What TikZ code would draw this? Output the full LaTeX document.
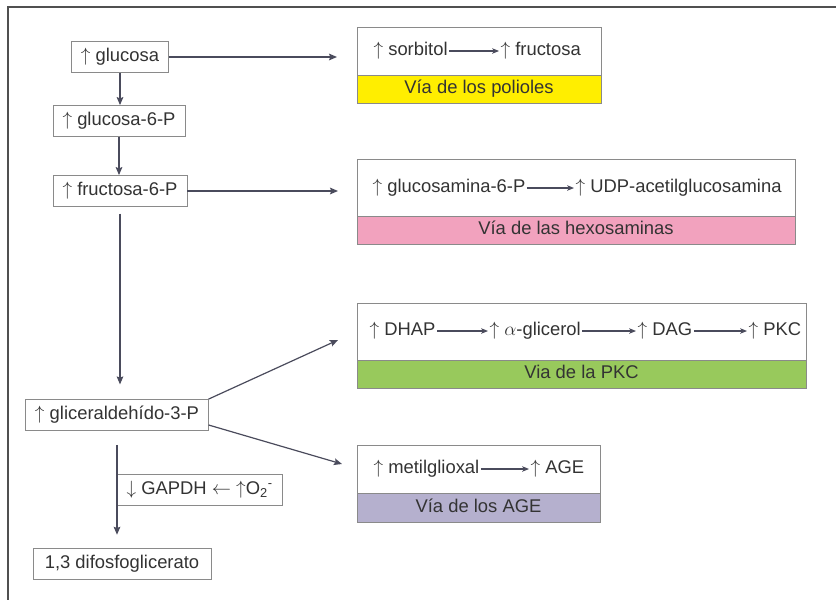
\documentclass[tikz,border=0pt]{standalone}
\usepackage{fontspec}
\setmainfont{Liberation Sans}
\usetikzlibrary{arrows.meta,positioning,fit}
\definecolor{pframe}{HTML}{505050}
\definecolor{pline}{HTML}{8A8A8A}
\definecolor{parrow}{HTML}{4A4B5C}
\definecolor{ptext}{HTML}{333333}
\definecolor{pyellow}{HTML}{FFEE00}
\definecolor{ppink}{HTML}{F2A2BE}
\definecolor{pgreen}{HTML}{98C95C}
\definecolor{ppurple}{HTML}{B5B0CE}
\newcommand{\incr}{$\uparrow$}
\newcommand{\decr}{$\downarrow$}

\begin{document}
\begin{tikzpicture}[x=0.75pt, y=-0.75pt,
    every node/.style={font=\fontsize{13.8}{16}\selectfont, text=ptext},
    metab/.style={draw=pline, fill=white, inner xsep=7pt, minimum height=23.5pt,
      text height=10pt, text depth=3pt},
    panel/.style={draw=pline, fill=white, inner sep=0pt},
    bar/.style={draw=pline, fill=#1, inner sep=0pt},
    barlbl/.style={inner sep=0pt, text height=10pt, text depth=3pt},
    lbl/.style={anchor=west, inner xsep=1pt, inner ysep=0pt, text height=10pt, text depth=3pt},
    flow/.style={-{Stealth[length=6pt,width=5pt,inset=1pt]}, parrow, line width=0.9pt},
    sub/.style={-{Stealth[length=5pt,width=4pt,inset=1pt]}, parrow, line width=0.8pt}]
    \useasboundingbox (0,0) rectangle (836,600);
    % frame
    \draw[pframe, line width=1.2pt] (8,600) -- (8,7) -- (836,7);

    % main chain
    \node[metab] (glc) at (120,57) {\incr\ glucosa};
    \node[metab] (g6p) at (119,121) {\incr\ glucosa-6-P};
    \node[metab] (f6p) at (120,191) {\incr\ fructosa-6-P};
    \node[metab] (g3p) at (117,415) {\incr\ gliceraldehído-3-P};
    \node[metab, inner xsep=9pt] (dpg) at (122,564) {1,3 difosfoglicerato};
    \node[metab, anchor=west] (gapdh) at (117,490) {\decr\ GAPDH $\leftarrow$ \incr O\textsubscript{2}\textsuperscript{-}};

    % pathway panels
    \node[panel, fit={(357,27) (601,75)}] (polw) {};
    \node[bar=pyellow, fit={(357,75) (601,103)}] (polb) {};
    \node[barlbl] at (polb.center) {Vía de los polioles};
    \node[panel, fit={(357,159) (795,216)}] (hexw) {};
    \node[bar=ppink, fit={(357,216) (795,244)}] (hexb) {};
    \node[barlbl] at (hexb.center) {Vía de las hexosaminas};
    \node[panel, fit={(357,303) (806,360)}] (pkcw) {};
    \node[bar=pgreen, fit={(357,360) (806,388)}] (pkcb) {};
    \node[barlbl] at (pkcb.center) {Via de la PKC};
    \node[panel, fit={(357,445) (600,493)}] (agew) {};
    \node[bar=ppurple, fit={(357,493) (600,522)}] (ageb) {};
    \node[barlbl] at (ageb.center) {Vía de los AGE};

    % panel contents
    \node[lbl] (sorb) at (372,51) {\incr\ sorbitol};
    \node[lbl] (fruc) at (499,51) {\incr\ fructosa};
    \node[lbl] (gam) at (371,188) {\incr\ glucosamina-6-P};
    \node[lbl] (udp) at (574,188) {\incr\ UDP-acetilglucosamina};
    \node[lbl] (dhap) at (368,331) {\incr\ DHAP};
    \node[lbl] (agl) at (488,331) {\incr\ $\alpha$-glicerol};
    \node[lbl] (dag) at (636,331) {\incr\ DAG};
    \node[lbl] (pkc) at (747,331) {\incr\ PKC};
    \node[lbl] (mgo) at (372,469) {\incr\ metilglioxal};
    \node[lbl] (age) at (529,469) {\incr\ AGE};

    \draw[sub] (sorb) -- (fruc);
    \draw[sub] (gam) -- (udp);
    \draw[sub] (dhap) -- (agl);
    \draw[sub] (agl) -- (dag);
    \draw[sub] (dag) -- (pkc);
    \draw[sub] (mgo) -- (age);

    % arrows
    \coordinate (polin) at (337,57);
    \coordinate (hexin) at (338,191);
    \coordinate (pkcin) at (338,340);
    \coordinate (agein) at (342,464);
    \draw[flow] (glc.south) -- (glc.south |- g6p.north);
    \draw[flow] (g6p.south) -- (g6p.south |- f6p.north);
    \draw[flow, shorten <=5pt, shorten >=11pt] (f6p.south) -- (f6p.south |- g3p.north);
    \draw[flow] (glc.east) -- (glc.east -| polin);
    \draw[flow] (f6p.east) -- (f6p.east -| hexin);
    \draw[flow] (g3p.north east) -- (pkcin);
    \draw[flow] ([yshift=-7.5pt]g3p.east) -- (agein);
    \draw[flow, shorten <=10.5pt, shorten >=10pt] (g3p.south) -- (g3p.south |- dpg.north);
\end{tikzpicture}
\end{document}
